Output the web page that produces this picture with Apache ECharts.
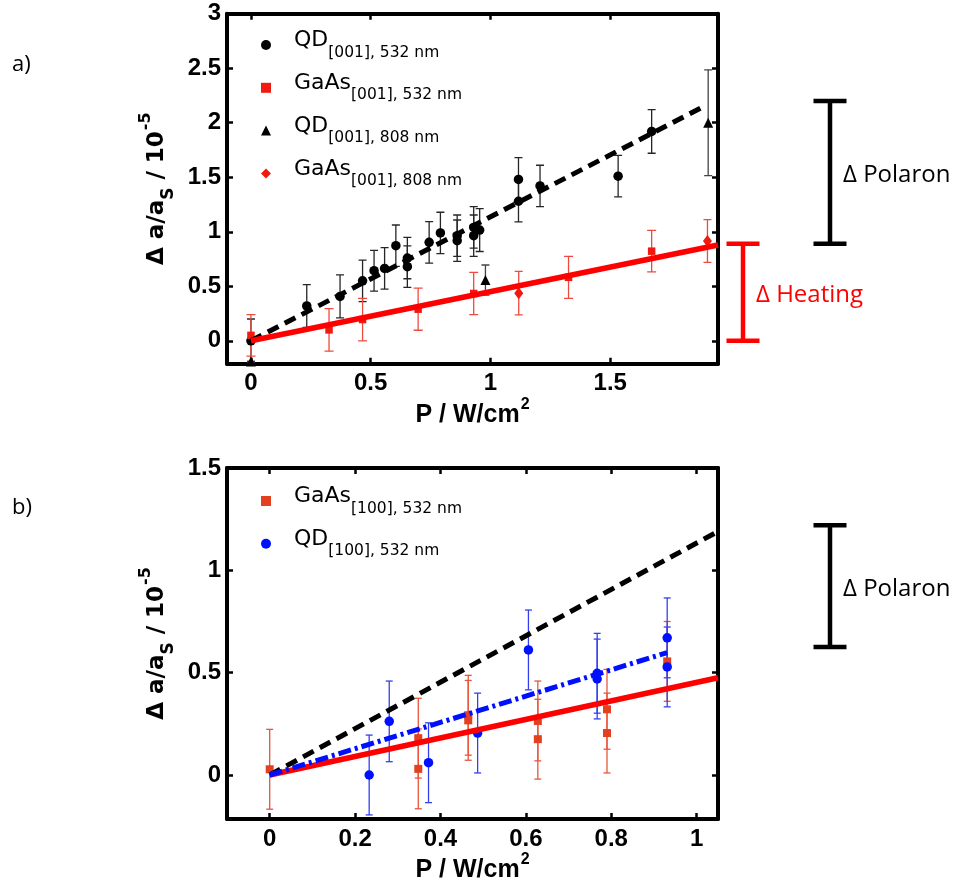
<!DOCTYPE html>
<html>
<head>
<meta charset="utf-8">
<script src="https://cdn.jsdelivr.net/npm/echarts@6/dist/echarts.min.js"></script>
<style>
  html, body { margin: 0; padding: 0; background: #fff; }
  #chart { width: 963px; height: 891px; }
</style>
</head>
<body>
<div id="chart"></div>
<script>
// ---- Panel a): [001] orientation ----
const qd001_532_x = [0, 0.233, 0.372, 0.466, 0.514, 0.558, 0.605, 0.653, 0.653, 0.744, 0.791, 0.861, 0.861, 0.93, 0.93, 0.955, 1.117, 1.117, 1.207, 1.533, 1.673];
const qd001_532_y = [0, 0.32, 0.407, 0.55, 0.643, 0.664, 0.872, 0.759, 0.68, 0.903, 0.989, 0.964, 0.918, 1.04, 0.964, 1.016, 1.48, 1.28, 1.42, 1.51, 1.92];
const qd001_532_err = [0.2, 0.196, 0.197, 0.19, 0.187, 0.19, 0.19, 0.19, 0.19, 0.19, 0.19, 0.19, 0.19, 0.19, 0.19, 0.197, 0.2, 0.19, 0.19, 0.19, 0.2];

const gaas001_532_x = [0, 0.326, 0.466, 0.698, 0.93, 1.326, 1.673];
const gaas001_532_y = [0.05, 0.1, 0.195, 0.29, 0.434, 0.582, 0.822];
const gaas001_532_err = [0.19, 0.195, 0.195, 0.193, 0.193, 0.193, 0.19];

const qd001_808_x = [0, 0.979, 1.909];
const qd001_808_y = [-0.19, 0.557, 2.0];
const qd001_808_err = [0, 0.138, 0.485];

const gaas001_808_x = [1.118, 1.906];
const gaas001_808_y = [0.437, 0.915];
const gaas001_808_err = [0.2, 0.196];

// linear fits (end points)
const fitQD001 = [[0, 0], [1.9, 2.16]];
const fitGaAs001 = [[0, 0], [1.95, 0.879]];

// ---- Panel b): [100] orientation ----
const gaas100_532_x = [0, 0.348, 0.348, 0.465, 0.465, 0.628, 0.628, 0.79, 0.79, 0.931];
const gaas100_532_y = [0.028, 0.18, 0.03, 0.292, 0.267, 0.264, 0.175, 0.321, 0.205, 0.555];
const gaas100_532_err = [0.195, 0.195, 0.195, 0.195, 0.195, 0.195, 0.195, 0.195, 0.195, 0.195];

const qd100_532_x = [0.233, 0.28, 0.372, 0.487, 0.606, 0.767, 0.767, 0.931, 0.931];
const qd100_532_y = [0, 0.262, 0.06, 0.205, 0.611, 0.497, 0.469, 0.67, 0.528];
const qd100_532_err = [0.195, 0.197, 0.195, 0.195, 0.195, 0.195, 0.195, 0.195, 0.195];

const fitQDref = [[0, 0], [1.05, 1.19]];
const fitQD100 = [[0, 0], [0.931, 0.598]];
const fitGaAs100 = [[0, 0], [1.05, 0.475]];

// axis ranges and tick values
const xRangeA = [-0.1, 1.95];
const yRangeA = [-0.21, 3];
const xTicksA = [0, 0.5, 1, 1.5];
const yTicksA = [0, 0.5, 1, 1.5, 2, 2.5, 3];
const xRangeB = [-0.1, 1.05];
const yRangeB = [-0.215, 1.5];
const xTicksB = [0, 0.2, 0.4, 0.6, 0.8, 1];
const yTicksB = [0, 0.5, 1, 1.5];

// legend texts: main part and subscript
const legendA = ['QD [001] 532', 'GaAs [001] 532', 'QD [001] 808', 'GaAs [001] 808'];
const legendB = ['GaAs [100] 532', 'QD [100] 532'];
const legendMain = { 'QD [001] 532': 'QD', 'GaAs [001] 532': 'GaAs', 'QD [001] 808': 'QD', 'GaAs [001] 808': 'GaAs',
                     'GaAs [100] 532': 'GaAs', 'QD [100] 532': 'QD' };
const legendSub = { 'QD [001] 532': '[001], 532 nm', 'GaAs [001] 532': '[001], 532 nm', 'QD [001] 808': '[001], 808 nm',
                    'GaAs [001] 808': '[001], 808 nm', 'GaAs [100] 532': '[100], 532 nm', 'QD [100] 532': '[100], 532 nm' };

// bracket annotations [low, high] in axis units
const polaronA = [0.89, 2.2];
const heatingA = [0, 0.89];
const polaronB = [0.625, 1.22];
const polaronLabel = 'Δ Polaron';
const heatingLabel = 'Δ Heating';

// ---------------------------------------------------------------
const zip = (xs, ys) => xs.map((x, i) => [x, ys[i]]);
const bars = (xs, ys, es) => xs.map((x, i) => [x, ys[i] - es[i], ys[i] + es[i]]);

const tickFont = { fontFamily: 'Liberation Sans', fontWeight: 'bold', fontSize: 24, color: '#000' };
const boxLine = { color: '#000', width: 4 };
const tickLine = { color: '#000', width: 2.5 };

function xAxes(grid, range, ticks, nameGap) {
  return [
    {
      type: 'value', gridIndex: grid, min: range[0], max: range[1], position: 'bottom',
      name: '{n|P / W/cm}{sup|2}', nameLocation: 'middle', nameGap: nameGap,
      nameTextStyle: {
        rich: {
          n: { fontFamily: 'Liberation Sans', fontWeight: 'bold', fontSize: 25, color: '#000', verticalAlign: 'top', padding: [6, 0, 0, 0] },
          sup: { fontFamily: 'Liberation Sans', fontWeight: 'bold', fontSize: 16, color: '#000', verticalAlign: 'top', padding: [0, 0, 0, 1] }
        }
      },
      axisLine: { onZero: false, lineStyle: boxLine },
      axisTick: { inside: true, length: 6, lineStyle: tickLine, customValues: ticks },
      axisLabel: { customValues: ticks, margin: 8, ...tickFont },
      splitLine: { show: false }
    },
    {
      type: 'value', gridIndex: grid, min: range[0], max: range[1], position: 'top',
      axisLine: { onZero: false, lineStyle: boxLine },
      axisTick: { inside: true, length: 6, lineStyle: tickLine, customValues: ticks },
      axisLabel: { show: false },
      splitLine: { show: false }
    }
  ];
}

function yAxes(grid, range, ticks) {
  return [
    {
      type: 'value', gridIndex: grid, min: range[0], max: range[1], position: 'left',
      name: '{n|Δ a/a}{sub|S}{n| / 10}{sup|-5}', nameLocation: 'middle', nameGap: 47,
      nameTextStyle: {
        rich: {
          n: { fontFamily: 'DejaVu Sans', fontWeight: 'bold', fontSize: 23, color: '#000', verticalAlign: 'top', padding: [8, 0, 0, 0] },
          sub: { fontFamily: 'DejaVu Sans', fontWeight: 'bold', fontSize: 17, color: '#000', verticalAlign: 'top', padding: [22, 0, 0, 0] },
          sup: { fontFamily: 'DejaVu Sans', fontWeight: 'bold', fontSize: 16, color: '#000', verticalAlign: 'top', padding: [0, 0, 0, 1] }
        }
      },
      axisLine: { onZero: false, lineStyle: boxLine },
      axisTick: { inside: true, length: 6, lineStyle: tickLine, customValues: ticks },
      axisLabel: { customValues: ticks, margin: 6, ...tickFont },
      splitLine: { show: false }
    },
    {
      type: 'value', gridIndex: grid, min: range[0], max: range[1], position: 'right',
      axisLine: { onZero: false, lineStyle: boxLine },
      axisTick: { inside: true, length: 6, lineStyle: tickLine, customValues: ticks },
      axisLabel: { show: false },
      splitLine: { show: false }
    }
  ];
}

// vertical error bar with caps
function errorBar(capHalf, color, width) {
  return function (params, api) {
    const x = api.value(0);
    const lo = api.coord([x, api.value(1)]);
    const hi = api.coord([x, api.value(2)]);
    const style = { stroke: color, lineWidth: width };
    return {
      type: 'group',
      children: [
        { type: 'line', shape: { x1: lo[0], y1: lo[1], x2: hi[0], y2: hi[1] }, style: style },
        { type: 'line', shape: { x1: lo[0] - capHalf, y1: lo[1], x2: lo[0] + capHalf, y2: lo[1] }, style: style },
        { type: 'line', shape: { x1: hi[0] - capHalf, y1: hi[1], x2: hi[0] + capHalf, y2: hi[1] }, style: style }
      ]
    };
  };
}

function errSeries(grid, data, capHalf, color, width) {
  return {
    type: 'custom', xAxisIndex: grid * 2, yAxisIndex: grid * 2, clip: true, silent: true, z: 1,
    renderItem: errorBar(capHalf, color, width),
    encode: { x: 0, y: [1, 2] },
    data: data
  };
}

function fitSeries(grid, data, color, width, dash) {
  return {
    type: 'line', xAxisIndex: grid * 2, yAxisIndex: grid * 2, data: data, showSymbol: false, silent: true, z: 4,
    lineStyle: { color: color, width: width, type: dash, cap: 'butt' }
  };
}

function pointSeries(grid, name, data, symbol, size, color) {
  return {
    type: 'scatter', name: name, xAxisIndex: grid * 2, yAxisIndex: grid * 2, data: data,
    symbol: symbol, symbolSize: size, itemStyle: { color: color, opacity: 1 }, z: 3, silent: true
  };
}

const legendRich = {
  main: { fontFamily: 'DejaVu Sans', fontSize: 22, color: '#000', verticalAlign: 'top', padding: [0, 0, 0, 18] },
  sub: { fontFamily: 'DejaVu Sans', fontSize: 15.5, color: '#000', verticalAlign: 'top', padding: [15, 0, 0, 0] }
};
const legendFormatter = name => '{main|' + legendMain[name] + '}{sub|' + legendSub[name] + '}';

const RED = '#f01a10';
const RED_BAR = '#ee4a3e';
const ORANGE = '#e2401f';
const ORANGE_BAR = '#e8553a';
const BLUE = '#0010ff';
const BLUE_BAR = '#3440f0';

const option = {
  animation: false,
  backgroundColor: '#fff',
  grid: [
    { left: 227, top: 13.7, width: 491, height: 350 },
    { left: 227, top: 468, width: 491, height: 351 }
  ],
  xAxis: [...xAxes(0, xRangeA, xTicksA, 33), ...xAxes(1, xRangeB, xTicksB, 33)],
  yAxis: [...yAxes(0, yRangeA, yTicksA), ...yAxes(1, yRangeB, yTicksB)],
  legend: [
    {
      data: legendA, orient: 'vertical', left: 261, top: 29.5, padding: 0, itemGap: 11.8,
      itemWidth: 10, itemHeight: 10, selectedMode: false,
      formatter: legendFormatter, textStyle: { rich: legendRich }
    },
    {
      data: legendB, orient: 'vertical', left: 261, top: 485.5, padding: 0, itemGap: 11.8,
      itemWidth: 10, itemHeight: 10, selectedMode: false,
      formatter: legendFormatter, textStyle: { rich: legendRich }
    }
  ],
  series: [
    // panel a)
    errSeries(0, bars(qd001_532_x, qd001_532_y, qd001_532_err), 4, '#262626', 1.3),
    errSeries(0, bars(gaas001_532_x, gaas001_532_y, gaas001_532_err), 4.5, RED_BAR, 1.3),
    errSeries(0, bars(qd001_808_x, qd001_808_y, qd001_808_err), 4, '#444', 1.3),
    errSeries(0, bars(gaas001_808_x, gaas001_808_y, gaas001_808_err), 4, RED_BAR, 1.3),
    pointSeries(0, legendA[0], zip(qd001_532_x, qd001_532_y), 'circle', 9.5, '#000'),
    pointSeries(0, legendA[1], zip(gaas001_532_x, gaas001_532_y), 'rect', 7.5, RED),
    pointSeries(0, legendA[2], zip(qd001_808_x, qd001_808_y), 'triangle', 10, '#000'),
    pointSeries(0, legendA[3], zip(gaas001_808_x, gaas001_808_y), 'diamond', [9, 12], RED),
    fitSeries(0, fitQD001, '#000', 5, [12, 7]),
    fitSeries(0, fitGaAs001, '#ff0000', 5.5, 'solid'),
    // panel b)
    errSeries(1, bars(gaas100_532_x, gaas100_532_y, gaas100_532_err), 3.5, ORANGE_BAR, 1.3),
    errSeries(1, bars(qd100_532_x, qd100_532_y, qd100_532_err), 3.5, BLUE_BAR, 1.3),
    pointSeries(1, legendB[0], zip(gaas100_532_x, gaas100_532_y), 'rect', 8, ORANGE),
    pointSeries(1, legendB[1], zip(qd100_532_x, qd100_532_y), 'circle', 9.5, BLUE),
    fitSeries(1, fitQDref, '#000', 5, [12, 7]),
    fitSeries(1, fitGaAs100, '#ff0000', 5.5, 'solid'),
    fitSeries(1, fitQD100, BLUE, 5, [13, 4, 3, 4])
  ]
};

const chart = echarts.init(document.getElementById('chart'));
chart.setOption(option);

// bracket annotations to the right of the panels, placed from axis values
function bracket(gridIdx, range, x, color, label, textX) {
  const yLo = chart.convertToPixel({ yAxisIndex: gridIdx * 2 }, range[0]);
  const yHi = chart.convertToPixel({ yAxisIndex: gridIdx * 2 }, range[1]);
  const half = 16.5;
  const style = { stroke: color, lineWidth: 4.5 };
  return [
    { type: 'line', shape: { x1: x, y1: yLo, x2: x, y2: yHi }, style: style },
    { type: 'line', shape: { x1: x - half, y1: yLo, x2: x + half, y2: yLo }, style: style },
    { type: 'line', shape: { x1: x - half, y1: yHi, x2: x + half, y2: yHi }, style: style },
    { type: 'text', x: textX, y: (yLo + yHi) / 2 + 3,
      style: { text: label, fill: color, font: '24px "Open Sans"', verticalAlign: 'middle', align: 'left' } }
  ];
}

chart.setOption({
  graphic: [
    ...bracket(0, polaronA, 830, '#000', polaronLabel, 843),
    ...bracket(0, heatingA, 743, '#ff0000', heatingLabel, 756),
    ...bracket(1, polaronB, 830, '#000', polaronLabel, 843),
    { type: 'text', x: 12, y: 65, style: { text: 'a)', fill: '#000', font: '22px "Open Sans"', verticalAlign: 'middle' } },
    { type: 'text', x: 12, y: 508, style: { text: 'b)', fill: '#000', font: '22px "Open Sans"', verticalAlign: 'middle' } }
  ]
});
</script>
</body>
</html>
